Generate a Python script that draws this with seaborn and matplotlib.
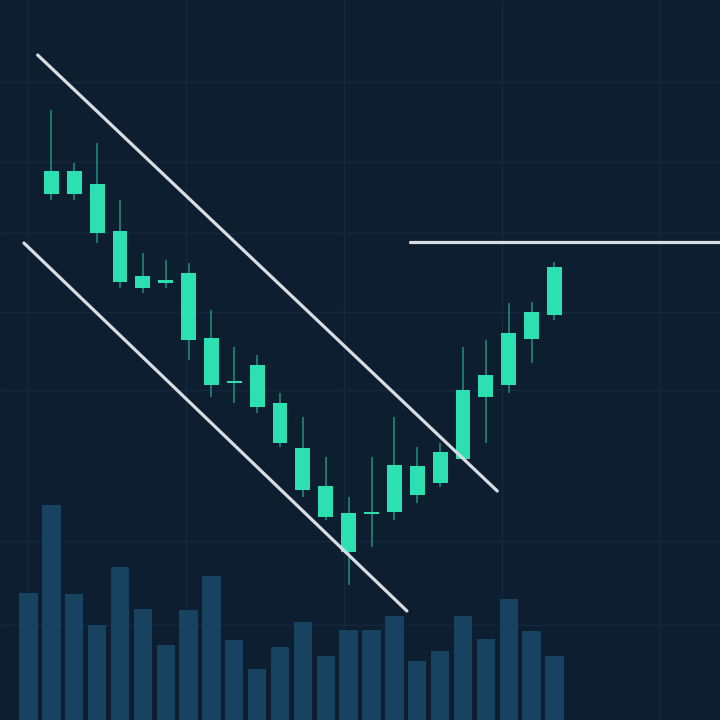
import numpy as np
import pandas as pd
import matplotlib
matplotlib.use("Agg")
import matplotlib.pyplot as plt
import seaborn as sns

# candle data (index 0 has only volume)
idx = list(range(24))
opens = [np.nan, 131.5, 131.5, 121.75, 109.5, 108.0, 109.25, 95.0, 83.75, 84.25, 78.25, 69.25,
         57.5, 50.75, 42.0, 51.5, 52.0, 56.25, 59.25, 65.25, 80.75, 83.75, 95.25, 101.25]
closes = [np.nan, 137.25, 137.25, 134.0, 122.25, 111.0, 110.0, 111.75, 95.5, 84.75, 88.75, 79.25,
          68.0, 58.5, 51.75, 52.0, 63.75, 63.5, 67.0, 82.5, 86.25, 96.75, 102.0, 113.25]
highs = [np.nan, 152.5, 139.25, 144.25, 130.0, 116.75, 115.0, 114.25, 102.5, 93.25, 91.25, 81.75,
         75.75, 65.75, 55.75, 65.75, 75.75, 68.25, 69.25, 93.25, 95.0, 104.25, 104.5, 114.5]
lows = [np.nan, 130.0, 130.0, 119.25, 108.0, 106.75, 108.0, 90.0, 80.75, 79.25, 76.75, 68.25,
        55.75, 50.0, 33.75, 43.25, 50.0, 54.25, 58.25, 65.0, 69.25, 81.75, 89.25, 100.0]
volume = [1270, 2150, 1260, 950, 1530, 1110, 750, 1100, 1440, 800, 510, 730,
          980, 640, 900, 900, 1040, 590, 690, 1040, 810, 1210, 890, 640]

# drawn trend lines (index, price)
upper_x, upper_y = [0.4, 20.5], [166.25, 57.25]
lower_x, lower_y = [-0.2, 16.55], [119.25, 27.25]
resist_x, resist_y = [16.7, 30.5], [119.5, 119.5]

bg = "#0e1e31"
green = "#2de0b2"
vol_color = "#184360"
line_color = "#d9dde2"

sns.set_theme(style="dark", rc={"axes.facecolor": bg, "figure.facecolor": bg})

df = pd.DataFrame({"idx": idx, "open": opens, "close": closes, "high": highs, "low": lows,
                   "volume": volume})

fig = plt.figure(figsize=(7.2, 7.2), dpi=100)
ax = fig.add_axes([0, 0, 1, 1])
ax.set_facecolor(bg)

# faint grid
ax.set_xticks([0, 6.9, 13.8, 20.7, 27.6])
ax.set_yticks([159.5, 139.5, 121.75, 102, 82.5, 44.75, 23.75])
ax.grid(True, color="#15283c", linewidth=1.0)
ax.tick_params(length=0, labelbottom=False, labelleft=False)

# wicks and bodies
cd = df.dropna()
ax.vlines(cd["idx"], cd["low"], cd["high"], color=green, alpha=0.5, linewidth=1.3, zorder=3)
ax.bar(cd["idx"], cd["close"] - cd["open"], bottom=cd["open"], width=0.65, color=green,
       linewidth=0, zorder=4)

# trend lines
for xs, ys in [(upper_x, upper_y), (lower_x, lower_y), (resist_x, resist_y)]:
    sns.lineplot(x=xs, y=ys, ax=ax, color=line_color, linewidth=2.3, solid_capstyle="round",
                 zorder=5)

ax.set_xlim(-1.246, 30.24)
ax.set_ylim(0, 180)
ax.set_xlabel("")
ax.set_ylabel("")
for s in ax.spines.values():
    s.set_visible(False)

# volume on its own scale
vax = ax.twinx()
vax.patch.set_visible(False)
sns.barplot(data=df, x="idx", y="volume", native_scale=True, ax=vax, color=vol_color,
            saturation=1, width=0.8, linewidth=0)
vax.set_ylim(0, 7200)
vax.set_xlim(-1.246, 30.24)
vax.set_xlabel("")
vax.set_ylabel("")
vax.set_yticks([])
vax.tick_params(length=0, labelbottom=False, labelright=False)
for s in vax.spines.values():
    s.set_visible(False)

fig.savefig("out.png", dpi=100, facecolor=bg)
